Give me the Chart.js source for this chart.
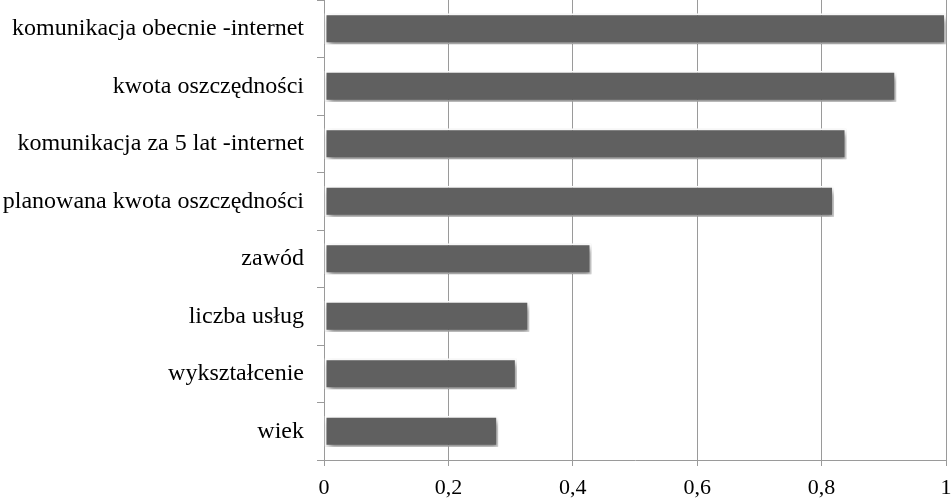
<!DOCTYPE html>
<html>
<head>
<meta charset="utf-8">
<script src="https://cdn.jsdelivr.net/npm/chart.js@4"></script>
<style>
  html, body { margin: 0; padding: 0; background: #ffffff; }
  #wrap { width: 952px; height: 498px; position: relative; }
</style>
</head>
<body>
<div id="wrap"><canvas id="chart"></canvas></div>
<script>
// Factors, top to bottom
const categories = [
  'komunikacja obecnie -internet',
  'kwota oszczędności',
  'komunikacja za 5 lat -internet',
  'planowana kwota oszczędności',
  'zawód',
  'liczba usług',
  'wykształcenie',
  'wiek'
];
const importance = [1.0, 0.92, 0.84, 0.82, 0.43, 0.33, 0.31, 0.28];
const xTickValues = [0, 0.2, 0.4, 0.6, 0.8, 1];
const xTickLabels = ['0', '0,2', '0,4', '0,6', '0,8', '1'];

const serif = '"Liberation Serif", "Times New Roman", serif';

// Soft drop shadow under the bars
const barShadow = {
  id: 'barShadow',
  beforeDatasetsDraw(chart) {
    const ctx = chart.ctx;
    ctx.save();
    ctx.shadowColor = 'rgba(0,0,0,0.45)';
    ctx.shadowBlur = 6;
    ctx.shadowOffsetX = 2;
    ctx.shadowOffsetY = 4;
  },
  afterDatasetsDraw(chart) {
    chart.ctx.restore();
  }
};

new Chart(document.getElementById('chart'), {
  type: 'bar',
  data: {
    labels: categories,
    datasets: [{
      data: importance,
      backgroundColor: '#606060',
      borderColor: '#ffffff',
      borderWidth: 2,
      borderSkipped: false,
      barPercentage: 0.54,
      categoryPercentage: 1.0
    }]
  },
  options: {
    indexAxis: 'y',
    responsive: true,
    maintainAspectRatio: false,
    animation: false,
    events: [],
    layout: { padding: { top: 0, right: 6, left: 0, bottom: 0 } },
    plugins: {
      legend: { display: false },
      tooltip: { enabled: false }
    },
    scales: {
      x: {
        min: 0,
        max: 1,
        afterBuildTicks(scale) {
          scale.ticks = xTickValues.map(v => ({ value: v }));
        },
        afterFit(scale) {
          scale.height = 38;
          scale.paddingLeft = 0;
          scale.paddingRight = 0;
        },
        ticks: {
          autoSkip: false,
          maxRotation: 0,
          padding: 9,
          color: '#000000',
          font: { family: serif, size: 22 },
          callback(value) {
            const i = xTickValues.findIndex(v => Math.abs(v - value) < 1e-9);
            return i >= 0 ? xTickLabels[i] : '';
          }
        },
        grid: {
          color: '#9a9a9a',
          lineWidth: 1,
          drawTicks: true,
          tickLength: 6,
          tickColor: '#9a9a9a'
        },
        border: { display: true, color: '#9a9a9a', width: 1 }
      },
      y: {
        afterFit(scale) {
          scale.width = 324;
          scale.paddingTop = 0;
          scale.paddingBottom = 0;
        },
        ticks: {
          padding: 13,
          color: '#000000',
          font: { family: serif, size: 24 }
        },
        grid: {
          drawOnChartArea: false,
          drawTicks: true,
          tickLength: 7,
          tickColor: '#9a9a9a',
          color: '#9a9a9a'
        },
        border: { display: true, color: '#9a9a9a', width: 1 }
      }
    }
  },
  plugins: [barShadow]
});
</script>
</body>
</html>
